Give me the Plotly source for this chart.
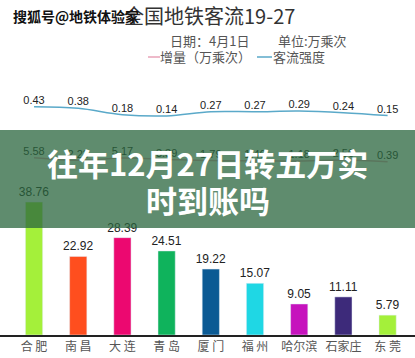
import plotly.graph_objects as go

cities = ["合 肥", "南 昌", "大 连", "青 岛", "厦 门", "福 州", "哈尔滨", "石家庄", "东 莞"]
flow = [38.76, 22.92, 28.39, 24.51, 19.22, 15.07, 9.05, 11.11, 5.79]
increase = [5.58, 2.23, 5.17, 3.39, 1.79, 1.46, 1.18, 2.50, 0.39]
intensity = [0.43, 0.38, 0.18, 0.14, 0.27, 0.27, 0.29, 0.24, 0.15]
bar_colors = ["#a4f03a", "#ff4e1e", "#ec0870", "#0fb35c", "#0b5a94",
              "#1fd7e4", "#c612bd", "#3d2a7a", "#a4f03a"]

W, H = 415, 358
def py(px):
    return 1 - px / H
def pxx(px):
    return px / W

fig = go.Figure()

fig.add_trace(go.Bar(
    x=cities, y=flow, marker_color=bar_colors, width=0.39,
    text=[f"{v:.2f}" for v in flow], textposition="outside", constraintext="none",
    textfont=dict(size=12, color="#222", family="Liberation Sans"),
    cliponaxis=False, xaxis="x", yaxis="y", showlegend=False))

fig.add_trace(go.Scatter(
    x=cities, y=intensity, mode="lines+text", line=dict(color="#5aa9c9", width=1.5, shape="spline"),
    text=[f"{v:.2f}" for v in intensity], textposition="top center",
    textfont=dict(size=11, color="#222", family="Liberation Sans"),
    cliponaxis=False, xaxis="x", yaxis="y2", showlegend=False))

fig.add_trace(go.Scatter(
    x=cities, y=increase, mode="lines+text", line=dict(color="#e9a3b8", width=1.5, shape="spline"),
    text=[f"{v:.2f}" for v in increase], textposition="top center",
    textfont=dict(size=11, color="#222", family="Liberation Sans"),
    cliponaxis=False, xaxis="x", yaxis="y3", showlegend=False))

fig.update_layout(
    width=W, height=H, margin=dict(l=0, r=0, t=0, b=0, autoexpand=False),
    paper_bgcolor="white", plot_bgcolor="rgba(0,0,0,0)",
    font=dict(family="Noto Sans CJK SC"),
    xaxis=dict(domain=[0, 1], range=[-0.77, 8.62], showline=True, linecolor="#222", linewidth=1.5,
               showgrid=False, zeroline=False, ticks="", tickfont=dict(size=12, color="#555"),
               anchor="y", fixedrange=True, automargin=False),
    yaxis=dict(domain=[py(335), py(180)], range=[0, 45.2], visible=False, fixedrange=True),
    yaxis2=dict(domain=[py(130), py(90)], range=[-0.30, 0.95], visible=False, anchor="x", fixedrange=True),
    yaxis3=dict(domain=[py(175), py(140)], range=[-16.9, 28.6], visible=False, anchor="x", fixedrange=True),
    bargap=0.5,
)

# banner overlay
fig.add_shape(type="rect", xref="paper", yref="paper", x0=0, x1=1, y0=py(228), y1=py(130),
              fillcolor="rgba(42,102,62,0.75)", line=dict(width=0), layer="above")

# legend line samples
fig.add_shape(type="line", xref="paper", yref="paper", x0=pxx(148), x1=pxx(160), y0=py(57), y1=py(57),
              line=dict(color="#e9a3b8", width=1.5))
fig.add_shape(type="line", xref="paper", yref="paper", x0=pxx(257), x1=pxx(272), y0=py(57), y1=py(57),
              line=dict(color="#5aa9c9", width=1.5))

ann = [
    dict(text="全国地铁客流19-27", x=pxx(122), y=py(16), xanchor="left", yanchor="middle",
         font=dict(size=20, color="#333")),
    dict(text="搜狐号@地铁体验家", x=pxx(11), y=py(16), xanchor="left", yanchor="middle",
         font=dict(size=14, color="#111", weight="bold")),
    dict(text="日期：4月1日", x=pxx(168), y=py(40), xanchor="left", yanchor="middle",
         font=dict(size=13, color="#555")),
    dict(text="单位:万乘次", x=pxx(276), y=py(40), xanchor="left", yanchor="middle",
         font=dict(size=13, color="#555")),
    dict(text="增量（万乘次）", x=pxx(158), y=py(57), xanchor="left", yanchor="middle",
         font=dict(size=13, color="#555")),
    dict(text="客流强度", x=pxx(271), y=py(57), xanchor="left", yanchor="middle",
         font=dict(size=13, color="#555")),
    dict(text="往年12月27日转五万实", x=0.5, y=py(162), xanchor="center", yanchor="middle",
         font=dict(size=31, color="white", weight="bold")),
    dict(text="时到账吗", x=0.5, y=py(199), xanchor="center", yanchor="middle",
         font=dict(size=31, color="white", weight="bold")),
]
for a in ann:
    fig.add_annotation(xref="paper", yref="paper", showarrow=False, **a)

fig.write_html("out.html", config={"displayModeBar": False, "staticPlot": True},
               post_script=["document.body.style.margin='0';document.body.style.overflow='hidden';"])
